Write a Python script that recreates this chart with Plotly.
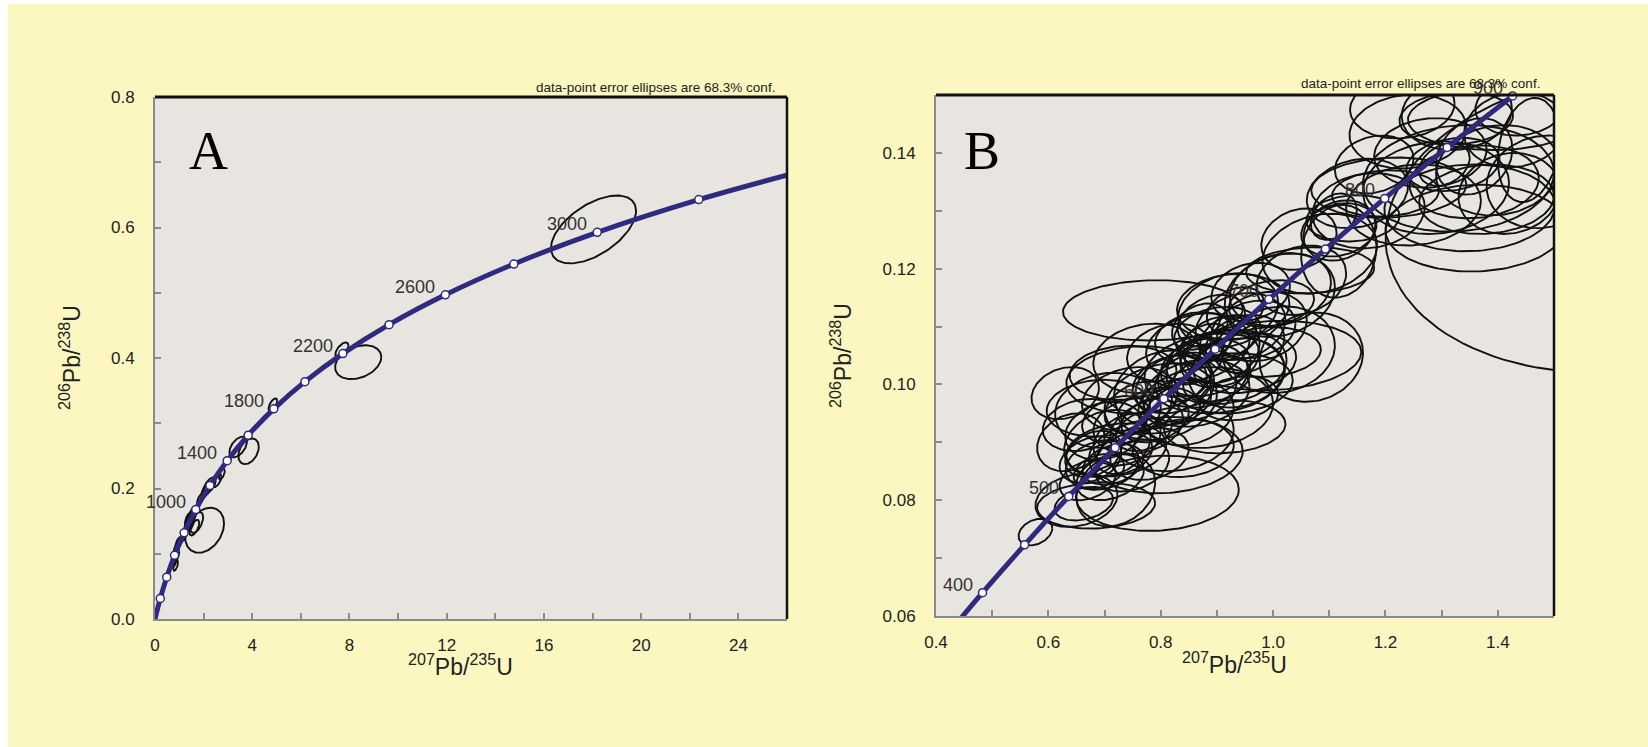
import numpy as np
import plotly.graph_objects as go

# ---------------- data ----------------
# Panel A: concordia age points (Ma) and their ratios
a_ages = [0, 200, 400, 600, 800, 1000, 1200, 1400, 1600, 1800, 2000, 2200, 2400,
          2600, 2800, 3000, 3200, 3400]
a_x207 = [0.0, 0.2177, 0.4828, 0.8056, 1.1987, 1.6774, 2.2603, 2.9701, 3.8344,
          4.8869, 6.1685, 7.7292, 9.6296, 11.9437, 14.7617, 18.1931, 22.3716, 27.4597]
a_y206 = [0.0, 0.03151, 0.06402, 0.09754, 0.13213, 0.16781, 0.20461, 0.24257, 0.28173,
          0.32212, 0.36378, 0.40676, 0.45109, 0.49682, 0.54399, 0.59264, 0.64281, 0.69459]
a_label_ages = [1000, 1400, 1800, 2200, 2600, 3000]

# Panel A error ellipses: centre, half-widths, correlation
a_cx = [18.04, 7.69, 8.36, 4.85, 3.42, 3.85, 2.04, 2.25, 2.55, 2.75, 2.05, 1.85, 1.55,
        1.40, 1.71, 1.30, 1.20, 0.95, 0.85, 0.80, 0.85, 1.05, 1.50, 1.62, 1.35, 1.45,
        0.90, 2.15]
a_cy = [0.597, 0.4124, 0.3936, 0.328, 0.2636, 0.257, 0.136, 0.205, 0.212, 0.222, 0.195,
        0.183, 0.160, 0.150, 0.148, 0.140, 0.128, 0.115, 0.105, 0.090, 0.082, 0.120,
        0.155, 0.140, 0.152, 0.146, 0.098, 0.200]
a_sx = [1.75, 0.27, 0.95, 0.18, 0.36, 0.42, 0.80, 0.25, 0.18, 0.12, 0.15, 0.12, 0.18,
        0.15, 0.27, 0.12, 0.10, 0.12, 0.10, 0.12, 0.10, 0.10, 0.14, 0.20, 0.12, 0.16,
        0.10, 0.18]
a_sy = [0.052, 0.0115, 0.026, 0.010, 0.0158, 0.0197, 0.0345, 0.012, 0.010, 0.008, 0.010,
        0.008, 0.013, 0.012, 0.016, 0.010, 0.008, 0.010, 0.009, 0.010, 0.008, 0.008,
        0.011, 0.012, 0.010, 0.012, 0.009, 0.011]
a_rho = [0.55, 0.6, 0.3, 0.6, 0.5, 0.35, 0.3, 0.6, 0.6, 0.6, 0.6, 0.6, 0.6, 0.6, 0.5,
         0.6, 0.6, 0.6, 0.6, 0.6, 0.6, 0.6, 0.6, 0.6, 0.6, 0.6, 0.6, 0.6]

# Panel B: concordia age points (Ma)
b_ages = [350, 400, 450, 500, 550, 600, 650, 700, 750, 800, 850, 900, 950]
b_x207 = [0.4116, 0.4828, 0.5577, 0.6363, 0.7189, 0.8056, 0.8968, 0.9925, 1.0931,
          1.1987, 1.3097, 1.4263, 1.5488]
b_y206 = [0.05580, 0.06402, 0.07230, 0.08065, 0.08906, 0.09754, 0.10609, 0.11470,
          0.12338, 0.13213, 0.14094, 0.14983, 0.15878]
b_label_ages = [400, 500, 600, 700, 800, 900]

# Panel B error ellipses
b_cx = [0.577, 0.650, 0.685, 0.794, 0.663, 0.720, 0.696, 0.715, 0.705, 0.689, 0.690,
        0.670, 0.735, 0.680, 0.721, 0.706, 0.733, 0.809,
        0.757, 0.806, 0.896, 0.914, 0.797, 0.863, 0.927, 0.939, 0.800, 0.917, 0.790,
        0.770, 0.760, 0.830, 0.840,
        0.786, 0.920, 1.012, 1.066, 1.010, 0.942, 0.933, 0.901, 0.990, 0.866, 0.949,
        0.997, 1.000, 0.860, 0.880, 0.900, 0.920, 0.870, 0.929, 0.905, 1.068, 1.013,
        1.046, 1.117, 1.083, 1.118, 1.108, 1.117,
        1.200, 1.240, 1.326, 1.330, 1.350, 1.360, 1.358, 1.305, 1.358, 1.430, 1.455,
        1.142, 1.620, 1.230, 1.327, 1.206, 1.400, 1.320, 1.400,
        0.740, 0.760, 0.820, 0.850, 0.880, 0.860, 0.890, 0.950, 0.960, 0.980, 0.640,
        0.660, 0.630, 0.720, 0.780, 0.840, 1.150, 1.250, 1.280, 1.380, 1.440, 1.480,
        1.050, 1.180,
        0.700, 0.745, 0.775, 0.815, 0.845, 0.875, 0.905, 0.935, 0.965, 0.675, 0.710,
        0.750, 0.820, 0.880, 1.170, 1.290, 1.420]
b_cy = [0.0745, 0.0800, 0.0791, 0.0812, 0.0794, 0.0818, 0.0861, 0.0862, 0.0898, 0.0959,
        0.0850, 0.0835, 0.0880, 0.0880, 0.0887, 0.0955, 0.1020, 0.0878,
        0.1008, 0.0993, 0.1019, 0.0927, 0.0955, 0.0985, 0.1002, 0.0976, 0.0970, 0.1030,
        0.0940, 0.0920, 0.0960, 0.0970, 0.1010,
        0.1128, 0.1128, 0.1154, 0.1197, 0.1060, 0.1100, 0.1128, 0.1088, 0.1056, 0.1065,
        0.1037, 0.1140, 0.1050, 0.1040, 0.1070, 0.1010, 0.1080, 0.1100, 0.1134, 0.1060,
        0.1047, 0.1164,
        0.1251, 0.1267, 0.1226, 0.1266, 0.1290, 0.1230,
        0.1330, 0.1437, 0.1460, 0.1356, 0.1305, 0.1270, 0.1350, 0.1380, 0.1394, 0.1440,
        0.1405, 0.1287, 0.1280, 0.1480, 0.1470, 0.1340, 0.1460, 0.1380, 0.1370,
        0.0905, 0.0930, 0.1000, 0.0950, 0.1030, 0.1080, 0.1110, 0.1070, 0.1160, 0.1100,
        0.0900, 0.0930, 0.0985, 0.0940, 0.0880, 0.0890, 0.1330, 0.1310, 0.1400, 0.1320,
        0.1480, 0.1350, 0.1180, 0.1380,
        0.0920, 0.0975, 0.1045, 0.1055, 0.0995, 0.1015, 0.1045, 0.1020, 0.1095, 0.0870,
        0.0840, 0.0860, 0.0915, 0.0960, 0.1300, 0.1340, 0.1330]
b_sx = [0.030, 0.073, 0.105, 0.145, 0.052, 0.070, 0.065, 0.054, 0.077, 0.092, 0.045,
        0.050, 0.050, 0.050, 0.089, 0.094, 0.095, 0.137,
        0.125, 0.089, 0.125, 0.108, 0.073, 0.095, 0.108, 0.070, 0.100, 0.107, 0.060,
        0.050, 0.060, 0.060, 0.050,
        0.160, 0.089, 0.098, 0.114, 0.100, 0.080, 0.051, 0.077, 0.095, 0.092, 0.092,
        0.076, 0.157, 0.050, 0.045, 0.060, 0.050, 0.050, 0.100, 0.071, 0.092, 0.090,
        0.067, 0.067, 0.102, 0.064, 0.041, 0.067,
        0.095, 0.104, 0.101, 0.170, 0.152, 0.160, 0.115, 0.045, 0.068, 0.090, 0.055,
        0.083, 0.420, 0.093, 0.098, 0.138, 0.160, 0.083, 0.110,
        0.060, 0.080, 0.070, 0.080, 0.080, 0.070, 0.060, 0.070, 0.070, 0.080, 0.060,
        0.070, 0.060, 0.060, 0.070, 0.090, 0.090, 0.120, 0.100, 0.120, 0.080, 0.100,
        0.080, 0.070,
        0.070, 0.085, 0.095, 0.075, 0.090, 0.080, 0.070, 0.085, 0.075, 0.055, 0.060,
        0.065, 0.110, 0.120, 0.100, 0.130, 0.090]
b_sy = [0.0023, 0.0046, 0.0040, 0.0065, 0.0029, 0.0063, 0.0043, 0.0035, 0.0058, 0.0049,
        0.0030, 0.0035, 0.0035, 0.0040, 0.0046, 0.0065, 0.0047, 0.0066,
        0.0058, 0.0066, 0.0069, 0.0046, 0.0040, 0.0058, 0.0052, 0.0038, 0.0066, 0.0064,
        0.0040, 0.0035, 0.0045, 0.0040, 0.0040,
        0.0052, 0.0064, 0.0072, 0.0040, 0.0075, 0.0058, 0.0040, 0.0046, 0.0043, 0.0058,
        0.0052, 0.0040, 0.0060, 0.0040, 0.0035, 0.0040, 0.0040, 0.0040, 0.0057, 0.0058,
        0.0077, 0.0063,
        0.0053, 0.0046, 0.0069, 0.0052, 0.0040, 0.0080,
        0.0040, 0.0064, 0.0046, 0.0092, 0.0075, 0.0075, 0.0063, 0.0037, 0.0066, 0.0065,
        0.0090, 0.0040, 0.0260, 0.0055, 0.0065, 0.0052, 0.0055, 0.0046, 0.0078,
        0.0045, 0.0050, 0.0050, 0.0055, 0.0050, 0.0045, 0.0045, 0.0050, 0.0050, 0.0060,
        0.0050, 0.0045, 0.0045, 0.0040, 0.0045, 0.0050, 0.0060, 0.0070, 0.0060, 0.0060,
        0.0050, 0.0080, 0.0060, 0.0050,
        0.0050, 0.0055, 0.0060, 0.0050, 0.0060, 0.0055, 0.0050, 0.0060, 0.0050, 0.0040,
        0.0040, 0.0045, 0.0065, 0.0070, 0.0065, 0.0080, 0.0070]
b_rho = [0.3, 0.2, 0.1, 0.1, 0.3, 0.2, 0.2, 0.3, 0.2, 0.1, 0.3, 0.3, 0.3, 0.3, 0.2, 0.1,
         0.1, 0.1,
         0.1, 0.2, 0.1, 0.1, 0.2, 0.2, 0.1, 0.2, 0.2, 0.2, 0.3, 0.3, 0.3, 0.3, 0.3,
         0.05, 0.2, 0.2, 0.1, 0.1, 0.2, 0.3, 0.2, 0.1, 0.2, 0.2, 0.2, 0.1, 0.3, 0.3,
         0.3, 0.3, 0.3, 0.1, 0.2, 0.1, 0.2,
         0.2, 0.2, 0.2, 0.2, 0.3, 0.1,
         0.1, 0.1, 0.1, 0.1, 0.05, 0.05, 0.1, 0.3, 0.2, 0.1, 0.2, 0.1, 0.1, 0.1, 0.1,
         0.1, 0.05, 0.2, 0.1,
         0.3, 0.2, 0.2, 0.2, 0.2, 0.2, 0.3, 0.2, 0.2, 0.2, 0.2, 0.2, 0.2, 0.3, 0.2,
         0.1, 0.2, 0.1, 0.1, 0.1, 0.1, 0.1, 0.2, 0.2,
         0.2, 0.2, 0.15, 0.2, 0.15, 0.2, 0.2, 0.15, 0.2, 0.3, 0.3, 0.3, 0.1, 0.1, 0.1,
         0.1, 0.1]

# ---------------- styles ----------------
PAGE = "#FCF7C0"
PLOT_BG = "#E8E4E0"
CURVE = "#2E2B7E"
FONT = "Liberation Sans, Arial, sans-serif"
SERIF = "Liberation Serif, Times New Roman, serif"
W, H = 1648, 747


def outlines(cx, cy, sx, sy, rho):
    t = np.linspace(0, 2 * np.pi, 121)
    xs, ys = [], []
    for x0, y0, a, b, r in zip(cx, cy, sx, sy, rho):
        xs += list(x0 + a * np.cos(t)) + [None]
        ys += list(y0 + b * (r * np.cos(t) + np.sqrt(1 - r * r) * np.sin(t))) + [None]
    return xs, ys


fig = go.Figure()

for (cx, cy, sx, sy, rho, xa, ya) in [
        (a_cx, a_cy, a_sx, a_sy, a_rho, "x", "y"),
        (b_cx, b_cy, b_sx, b_sy, b_rho, "x2", "y2")]:
    ex, ey = outlines(cx, cy, sx, sy, rho)
    fig.add_trace(go.Scatter(x=ex, y=ey, mode="lines", xaxis=xa, yaxis=ya,
                             line=dict(color="#111111", width=1.9),
                             hoverinfo="skip", showlegend=False))

# concordia curves
fig.add_trace(go.Scatter(x=a_x207, y=a_y206, mode="lines", xaxis="x", yaxis="y",
                         line=dict(color=CURVE, width=5, shape="spline"),
                         showlegend=False, hoverinfo="skip"))
fig.add_trace(go.Scatter(x=b_x207, y=b_y206, mode="lines", xaxis="x2", yaxis="y2",
                         line=dict(color=CURVE, width=5, shape="spline"),
                         showlegend=False, hoverinfo="skip"))

# age markers
a_mx = [x for age, x in zip(a_ages, a_x207) if 0 < age <= 3200]
a_my = [y for age, y in zip(a_ages, a_y206) if 0 < age <= 3200]
b_mx = [x for age, x in zip(b_ages, b_x207) if 400 <= age <= 900]
b_my = [y for age, y in zip(b_ages, b_y206) if 400 <= age <= 900]
mk = dict(size=8, color="white", line=dict(color=CURVE, width=1.5))
fig.add_trace(go.Scatter(x=a_mx, y=a_my, mode="markers", xaxis="x", yaxis="y",
                         marker=mk, showlegend=False, cliponaxis=False))
fig.add_trace(go.Scatter(x=b_mx, y=b_my, mode="markers", xaxis="x2", yaxis="y2",
                         marker=mk, showlegend=False, cliponaxis=False))

annotations = []
for ages, xs, ys, labs, xr, yr in [(a_ages, a_x207, a_y206, a_label_ages, "x", "y"),
                                   (b_ages, b_x207, b_y206, b_label_ages, "x2", "y2")]:
    for lab in labs:
        i = ages.index(lab)
        annotations.append(dict(x=xs[i], y=ys[i], xref=xr, yref=yr, text=str(lab),
                                showarrow=False, xanchor="right", yanchor="middle",
                                xshift=-8, yshift=8,
                                font=dict(family=FONT, size=18, color="#333333")))


def px(x):
    return x / W


def py(y):
    return 1 - y / H


note = "data-point error ellipses are 68.3% conf."
annotations += [
    dict(x=px(777), y=py(87), xref="paper", yref="paper", text=note, showarrow=False,
         xanchor="right", yanchor="middle", font=dict(family=FONT, size=13.5, color="#222")),
    dict(x=px(1542), y=py(83), xref="paper", yref="paper", text=note, showarrow=False,
         xanchor="right", yanchor="middle", font=dict(family=FONT, size=13.5, color="#222")),
    dict(x=px(208), y=py(151), xref="paper", yref="paper", text="A", showarrow=False,
         xanchor="center", yanchor="middle", font=dict(family=SERIF, size=54, color="#000")),
    dict(x=px(982), y=py(151), xref="paper", yref="paper", text="B", showarrow=False,
         xanchor="center", yanchor="middle", font=dict(family=SERIF, size=54, color="#000")),
]
xt = "<sup>207</sup>Pb/<sup>235</sup>U"
yt = "<sup>206</sup>Pb/<sup>238</sup>U"
for (xx, xy, yx, yy) in [(460, 665, 70, 358), (1234, 663, 841, 356)]:
    annotations.append(dict(x=px(xx), y=py(xy), xref="paper", yref="paper", text=xt,
                            showarrow=False, xanchor="center", yanchor="middle",
                            font=dict(family=FONT, size=23, color="#222")))
    annotations.append(dict(x=px(yx), y=py(yy), xref="paper", yref="paper", text=yt,
                            showarrow=False, xanchor="center", yanchor="middle",
                            textangle=-90, font=dict(family=FONT, size=23, color="#222")))

tickfont = dict(family=FONT, size=17, color="#222222")
common = dict(showgrid=False, zeroline=False, showline=True, linecolor="#8a8a8a",
              linewidth=2, ticks="inside", ticklen=6, tickcolor="#8a8a8a", tickwidth=1.5,
              tickfont=tickfont, automargin=False)
minor_style = dict(ticks="inside", ticklen=6, tickcolor="#8a8a8a", tickwidth=1.5,
                   showgrid=False)

shapes = []
for xr, yr in [("x domain", "y domain"), ("x2 domain", "y2 domain")]:
    shapes.append(dict(type="line", xref=xr, yref=yr, x0=0, x1=1, y0=1, y1=1,
                       line=dict(color="#111111", width=3)))
    shapes.append(dict(type="line", xref=xr, yref=yr, x0=1, x1=1, y0=0, y1=1,
                       line=dict(color="#111111", width=2.5)))
# white strips at the left and top edge of the picture
shapes.append(dict(type="rect", xref="paper", yref="paper", x0=0, x1=px(8), y0=0, y1=1,
                   fillcolor="white", line=dict(width=0), layer="below"))
shapes.append(dict(type="rect", xref="paper", yref="paper", x0=0, x1=1, y0=py(4), y1=1,
                   fillcolor="white", line=dict(width=0), layer="below"))

fig.update_layout(
    width=W, height=H, margin=dict(l=0, r=0, t=0, b=0, pad=0, autoexpand=False),
    paper_bgcolor=PAGE, plot_bgcolor=PLOT_BG, showlegend=False,
    xaxis=dict(domain=[px(155), px(787)], range=[0, 26], tick0=0, dtick=4,
               tickformat="d", anchor="y", ticklabelstandoff=10,
               minor=dict(dtick=2, **minor_style), **common),
    yaxis=dict(domain=[py(619), py(97)], range=[0, 0.8], tick0=0, dtick=0.2,
               tickformat=".1f", anchor="x", ticklabelstandoff=15,
               minor=dict(dtick=0.1, **minor_style), **common),
    xaxis2=dict(domain=[px(936), px(1554)], range=[0.4, 1.5], tick0=0.4, dtick=0.2,
                tickformat=".1f", anchor="y2", ticklabelstandoff=10,
                minor=dict(dtick=0.1, **minor_style), **common),
    yaxis2=dict(domain=[py(616), py(95)], range=[0.06, 0.15], tick0=0.06, dtick=0.02,
                tickformat=".2f", anchor="x2", ticklabelstandoff=15,
                minor=dict(dtick=0.01, **minor_style), **common),
    annotations=annotations, shapes=shapes,
)

fig.write_html("out.html",
               post_script="document.body.style.margin='0';"
                           "document.body.style.overflow='hidden';")
